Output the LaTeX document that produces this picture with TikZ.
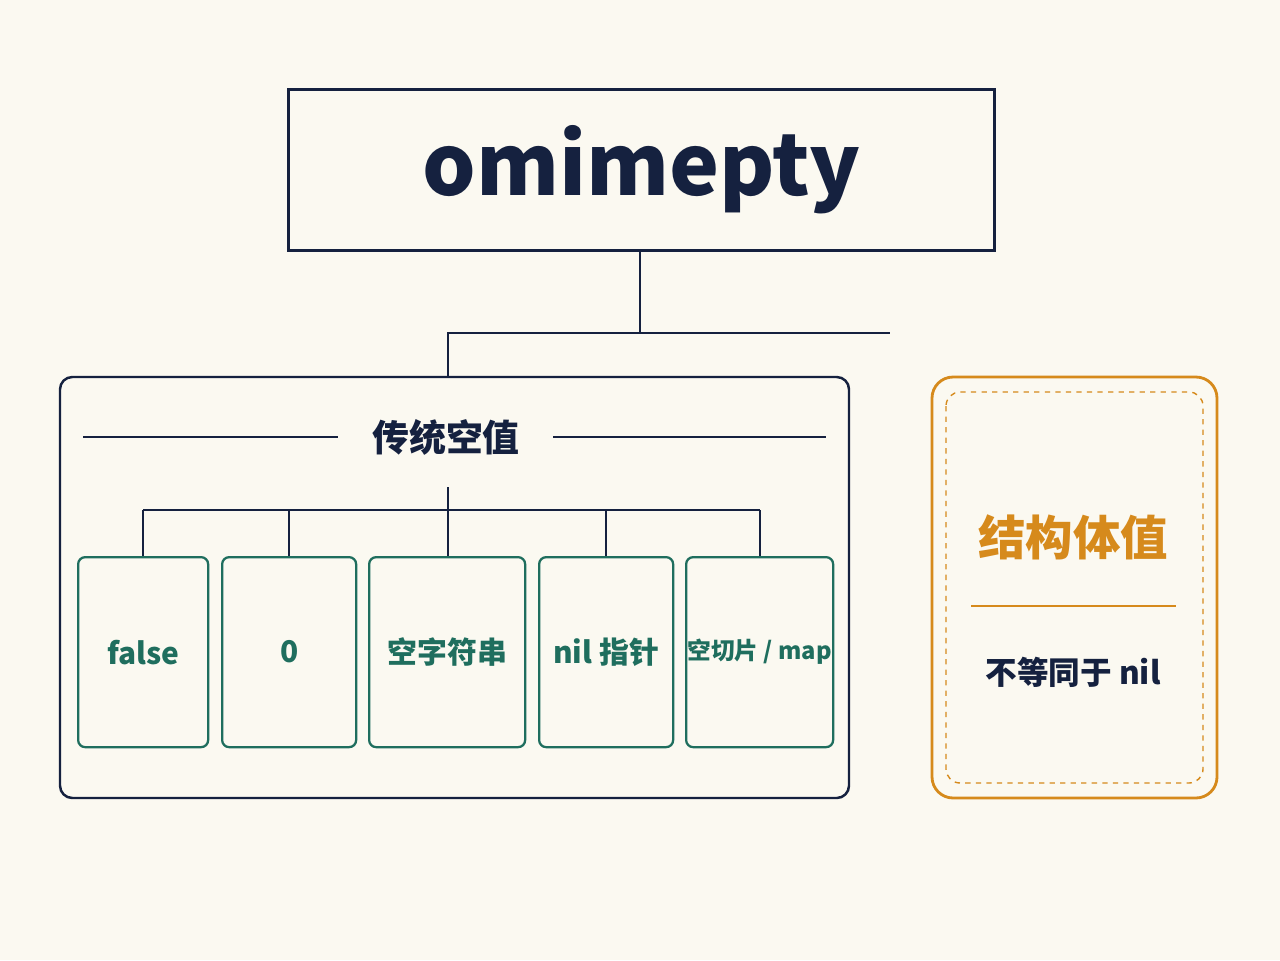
\documentclass[tikz,border=0pt]{standalone}
\usepackage{fontspec}
\setmainfont{Noto Sans CJK SC}
\usetikzlibrary{positioning}
\definecolor{navy}{HTML}{15213F}
\definecolor{teal}{HTML}{1F6E5E}
\definecolor{amber}{HTML}{D68A1C}
\definecolor{paper}{HTML}{FBF9F1}

\begin{document}
\begin{tikzpicture}[%
      x=0.02cm, y=-0.02cm,
      item/.style={draw=teal, line width=1.3pt, rounded corners=4pt, inner sep=0pt, text=teal, font=\fontsize{17}{20}\selectfont\bfseries, anchor=north west},
      link/.style={draw=navy, line width=1.3pt},
      ]
      \fill[paper] (0,0) rectangle (1280,960);
      \useasboundingbox (0,0) rectangle (1280,960);

      % top box
      \node[draw=navy, line width=1.8pt, minimum width=706*0.02cm, minimum height=161*0.02cm, anchor=north west,
            text=navy, font=\fontsize{48}{56}\selectfont\bfseries] (top) at (287,88) {omimepty};

      % left group
      \draw[navy, line width=1.4pt, rounded corners=7pt] (60,377) rectangle (849,798);
      \node[text=navy, font=\fontsize{21}{24}\selectfont\bfseries] (trad) at (446,437) {传统空值};
      \draw[link] (83,437) -- (338,437);
      \draw[link] (553,437) -- (826,437);

      \coordinate (split) at (640,333);
      \coordinate (endr) at (890,333);
      \coordinate (leftin) at (448,333);
      \draw[link] (top.south -| split) -- (split) -- (endr);
      \draw[link] (split) -- (leftin) -- (448,377);

      \node[item, minimum width=130*0.02cm, minimum height=190*0.02cm] (b1) at (77,556) {false};
      \node[item, minimum width=134*0.02cm, minimum height=190*0.02cm] (b2) at (221,556) {0};
      \node[item, minimum width=156*0.02cm, minimum height=190*0.02cm] (b3) at (368,556) {空字符串};
      \node[item, minimum width=134*0.02cm, minimum height=190*0.02cm] (b4) at (538,556) {nil 指针};
      \node[item, minimum width=147*0.02cm, minimum height=190*0.02cm, font=\fontsize{13.5}{16}\selectfont\bfseries] (b5) at (685,556) {空切片 / map};

      \coordinate (bus) at (448,510);
      \draw[link] (448,487) -- (bus);
      \draw[link] (b1.north |- bus) -- (b5.north |- bus);
      \foreach \b in {b1,b2,b4,b5}
        \draw[link] (\b.north |- bus) -- (\b.north);
      \draw[link] (bus) -- (bus |- b3.north);

      % right box
      \draw[amber, line width=1.6pt, rounded corners=12pt] (932,377) rectangle (1217,798);
      \draw[amber, line width=0.8pt, dashed, rounded corners=8pt] (946,392) rectangle (1203,783);
      \node[text=amber, font=\fontsize{27}{30}\selectfont\bfseries] (struct) at (1073,537) {结构体值};
      \draw[amber, line width=1.4pt] (971,606) -- (1176,606);
      \node[text=navy, font=\fontsize{18}{22}\selectfont\bfseries] (notnil) at (1073,672) {不等同于 nil};
\end{tikzpicture}
\end{document}
